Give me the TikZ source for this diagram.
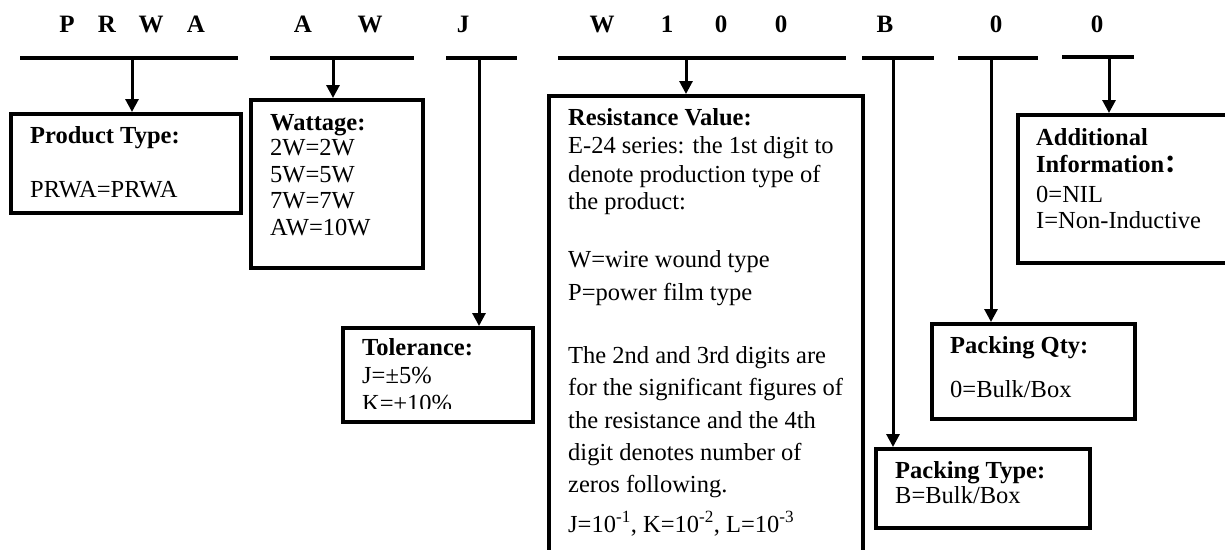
\documentclass[tikz,border=0pt]{standalone}
\usepackage{fontspec}
\setmainfont{Liberation Serif}
\newfontfamily\cjk{Noto Sans CJK SC}
\usetikzlibrary{arrows.meta}
\begin{document}
\begin{tikzpicture}[x=1pt,y=-1pt,
  bar/.style={line width=4pt},
  box/.style={draw, line width=3.5pt, anchor=north west, inner sep=0pt},
  conn/.style={line width=3pt},
  arr/.style={conn, -{Triangle[width=13pt,length=13pt]}},
  lbl/.style={anchor=base west, inner sep=0pt, font=\fontsize{24.5}{28}\selectfont},
  hd/.style={anchor=base west, inner sep=0pt, font=\fontsize{24.5}{28}\selectfont\bfseries},
  code/.style={anchor=base, inner sep=0pt, font=\fontsize{25}{30}\selectfont\bfseries}]
\clip (0,0) rectangle (1225,549);
\fill[white] (0,0) rectangle (1225,549);

% code letters
\node[code] (k1) at (67,32) {P};
\node[code] (k2) at (107,32) {R};
\node[code] (k3) at (151,32) {W};
\node[code] (k4) at (196,32) {A};
\node[code] (k5) at (303,32) {A};
\node[code] (k6) at (370,32) {W};
\node[code] (k7) at (463,32) {J};
\node[code] (k8) at (602,32) {W};
\node[code] (k9) at (667,32) {1};
\node[code] (k10) at (721,32) {0};
\node[code] (k11) at (781,32) {0};
\node[code] (k12) at (885,32) {B};
\node[code] (k13) at (996,32) {0};
\node[code] (k14) at (1097,32) {0};

% bars
\draw[bar] (20,58) -- (238,58);
\draw[bar] (270,58) -- (414,58);
\draw[bar] (446,58) -- (517,58);
\draw[bar] (558,58) -- (846,58);
\draw[bar] (862,58) -- (934,58);
\draw[bar] (958,58) -- (1038,58);
\draw[bar] (1062,57) -- (1134,57);

\coordinate (c1) at (132,58);
\coordinate (c2) at (333,58);
\coordinate (c3) at (479,58);
\coordinate (c4) at (686,58);
\coordinate (c5) at (893,58);
\coordinate (c6) at (991,58);
\coordinate (c7) at (1109,57);

% boxes
\node[box, minimum width=230pt, minimum height=99pt] (prod) at (9,112) {};
\node[box, minimum width=172pt, minimum height=168pt] (watt) at (249,98) {};
\node[box, minimum width=190pt, minimum height=94pt] (tol) at (341,326) {};
\node[box, minimum width=314pt, minimum height=480pt] (res) at (547,94) {};
\node[box, minimum width=214pt, minimum height=79pt] (ptype) at (874,447) {};
\node[box, minimum width=203pt, minimum height=95pt] (pqty) at (930,322) {};
\node[box, minimum width=230pt, minimum height=148pt] (add) at (1016,113) {};

% connectors
\draw[arr] (c1) -- (c1 |- prod.north);
\draw[arr] (c2) -- (c2 |- watt.north);
\draw[arr] (c3) -- (c3 |- tol.north);
\draw[arr] (c4) -- (c4 |- res.north);
\draw[arr] (c5) -- (c5 |- ptype.north);
\draw[arr] (c6) -- (c6 |- pqty.north);
\draw[arr] (c7) -- (c7 |- add.north);

% product type
\node[hd] (p1) at (30,143) {Product Type:};
\node[lbl] (p2) at (30,197) {PRWA=PRWA};

% wattage
\node[hd] (w1) at (270,130) {Wattage:};
\node[lbl] (w2) at (270,155) {2W=2W};
\node[lbl] (w3) at (270,182) {5W=5W};
\node[lbl] (w4) at (270,208) {7W=7W};
\node[lbl] (w5) at (270,235) {AW=10W};

% tolerance
\node[hd] (t1) at (362,355) {Tolerance:};
\node[lbl] (t2) at (362,383) {J=±5\%};
\begin{scope}
\clip (345,330) rectangle (527,408);
\node[lbl] (t3) at (362,411) {K=±10\%};
\end{scope}

% resistance
\node[hd] (r1) at (568,125) {Resistance Value:};
\node[lbl] (r2) at (568,153) {E-24 series: the 1st digit to};
\node[lbl] (r3) at (568,182) {denote production type of};
\node[lbl] (r4) at (568,209) {the product:};
\node[lbl] (r5) at (568,267) {W=wire wound type};
\node[lbl] (r6) at (568,300) {P=power film type};
\node[lbl] (r7) at (568,363) {The 2nd and 3rd digits are};
\node[lbl] (r8) at (568,395) {for the significant figures of};
\node[lbl] (r9) at (568,428) {the resistance and the 4th};
\node[lbl] (r10) at (568,460) {digit denotes number of};
\node[lbl] (r11) at (568,492) {zeros following.};
\node[lbl] (r12) at (568,532) {J=10\textsuperscript{-1}, K=10\textsuperscript{-2}, L=10\textsuperscript{-3}};

% packing qty
\node[hd] (q1) at (950,353) {Packing Qty:};
\node[lbl] (q2) at (950,397) {0=Bulk/Box};

% packing type
\node[hd] (y1) at (895,478) {Packing Type:};
\node[lbl] (y2) at (895,503) {B=Bulk/Box};

% additional information
\node[hd] (a1) at (1036,145) {Additional};
\node[hd] (a2) at (1036,172) {Information{\cjk ：}};
\node[lbl] (a3) at (1036,202) {0=NIL};
\node[lbl] (a4) at (1036,228) {I=Non-Inductive};
\end{tikzpicture}
\end{document}
